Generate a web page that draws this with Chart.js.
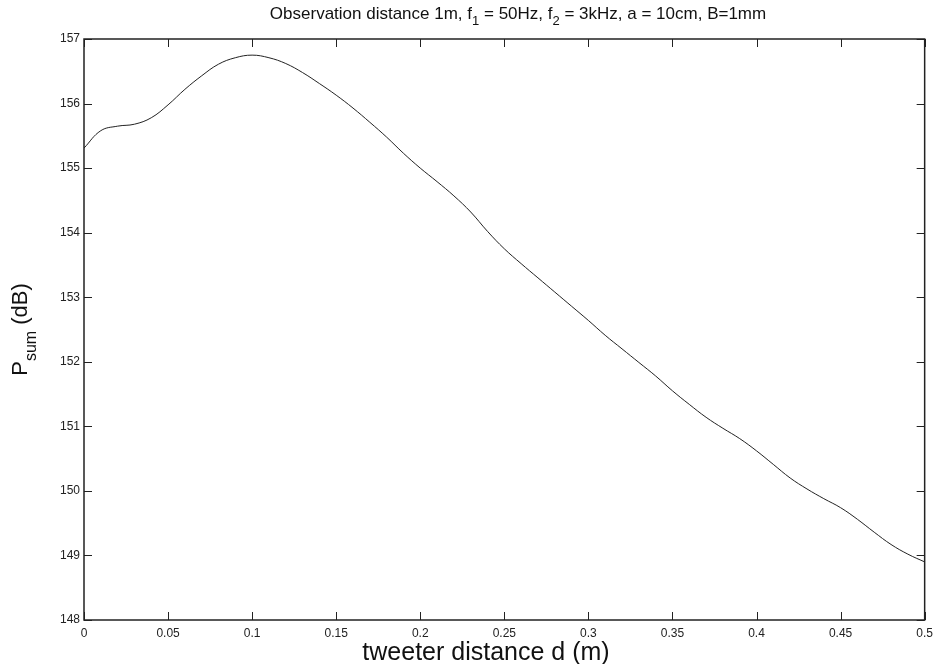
<!DOCTYPE html>
<html>
<head>
<meta charset="utf-8">
<script src="https://cdn.jsdelivr.net/npm/chart.js@4"></script>
<style>
  html, body { margin: 0; padding: 0; background: #fff; }
  canvas { display: block; }
</style>
</head>
<body>
<canvas id="chart" width="939" height="664"></canvas>
<script>
// tweeter distance d (m)
const distances = [
  0.00, 0.01, 0.02, 0.03, 0.04, 0.05, 0.06, 0.07, 0.08, 0.09,
  0.10, 0.11, 0.12, 0.13, 0.14, 0.15, 0.16, 0.17, 0.18, 0.19,
  0.20, 0.21, 0.22, 0.23, 0.24, 0.25, 0.26, 0.27, 0.28, 0.29,
  0.30, 0.31, 0.32, 0.33, 0.34, 0.35, 0.36, 0.37, 0.38, 0.39,
  0.40, 0.41, 0.42, 0.43, 0.44, 0.45, 0.46, 0.47, 0.48, 0.49, 0.50
];
// P_sum (dB)
const psum = [
  155.31, 155.58, 155.65, 155.68, 155.78, 155.98, 156.22, 156.43, 156.61, 156.71,
  156.75, 156.71, 156.62, 156.48, 156.31, 156.13, 155.93, 155.71, 155.48, 155.23,
  155.00, 154.79, 154.57, 154.32, 154.02, 153.75, 153.52, 153.30, 153.08, 152.86,
  152.64, 152.41, 152.20, 151.99, 151.78, 151.55, 151.34, 151.14, 150.97, 150.81,
  150.62, 150.41, 150.20, 150.03, 149.88, 149.74, 149.56, 149.36, 149.17, 149.02, 148.90
];
const xTicks = [0, 0.05, 0.1, 0.15, 0.2, 0.25, 0.3, 0.35, 0.4, 0.45, 0.5];
const yTicks = [148, 149, 150, 151, 152, 153, 154, 155, 156, 157];

const FONT = 'Liberation Sans, Arial, Helvetica, sans-serif';

// draws pieces of text with optional subscripts, starting at x
function drawRich(ctx, parts, x, y, size, subSize, subShift) {
  parts.forEach(p => {
    const s = p.sub ? subSize : size;
    ctx.font = s + 'px ' + FONT;
    ctx.fillText(p.text, x, p.sub ? y + subShift : y);
    x += ctx.measureText(p.text).width;
  });
}
function richWidth(ctx, parts, size, subSize) {
  let w = 0;
  parts.forEach(p => {
    ctx.font = (p.sub ? subSize : size) + 'px ' + FONT;
    w += ctx.measureText(p.text).width;
  });
  return w;
}

const matlabFrame = {
  id: 'matlabFrame',
  afterDraw(chart) {
    const { ctx, chartArea: a, scales } = chart;
    ctx.save();
    ctx.strokeStyle = '#222';
    ctx.lineWidth = 1;
    const tl = 8;
    ctx.beginPath();
    xTicks.forEach(v => {
      const px = Math.round(scales.x.getPixelForValue(v)) + 0.5;
      ctx.moveTo(px, a.bottom); ctx.lineTo(px, a.bottom - tl);
      ctx.moveTo(px, a.top); ctx.lineTo(px, a.top + tl);
    });
    yTicks.forEach(v => {
      const py = Math.round(scales.y.getPixelForValue(v)) + 0.5;
      ctx.moveTo(a.left, py); ctx.lineTo(a.left + tl, py);
      ctx.moveTo(a.right, py); ctx.lineTo(a.right - tl, py);
    });
    ctx.stroke();
    ctx.lineWidth = 1.5;
    ctx.strokeRect(a.left, a.top, a.right - a.left, a.bottom - a.top);

    ctx.fillStyle = '#111';
    ctx.textBaseline = 'alphabetic';
    // title
    const title = [
      { text: 'Observation distance 1m, f' }, { text: '1', sub: true },
      { text: ' = 50Hz, f' }, { text: '2', sub: true },
      { text: ' = 3kHz, a = 10cm, B=1mm' }
    ];
    const tw = richWidth(ctx, title, 17, 13);
    drawRich(ctx, title, 518 - tw / 2, 19, 17, 13, 6);

    // x label
    const xlab = [{ text: 'tweeter distance d (m)' }];
    const xw = richWidth(ctx, xlab, 25, 25);
    drawRich(ctx, xlab, 486 - xw / 2, 660, 25, 25, 0);

    // y label, rotated
    const ylab = [{ text: 'P' }, { text: 'sum', sub: true }, { text: ' (dB)' }];
    const yw = richWidth(ctx, ylab, 22, 16);
    ctx.translate(27, (a.top + a.bottom) / 2);
    ctx.rotate(-Math.PI / 2);
    drawRich(ctx, ylab, -yw / 2, 0, 22, 16, 9);
    ctx.restore();
  }
};

new Chart(document.getElementById('chart'), {
  type: 'line',
  data: {
    datasets: [{
      data: distances.map((d, i) => ({ x: d, y: psum[i] })),
      borderColor: '#222',
      borderWidth: 1,
      pointRadius: 0,
      fill: false,
      tension: 0.4
    }]
  },
  options: {
    responsive: false,
    animation: false,
    layout: { padding: { top: 39, right: 12, left: 0, bottom: 0 } },
    plugins: { legend: { display: false }, tooltip: { enabled: false }, title: { display: false } },
    scales: {
      x: {
        type: 'linear', min: 0, max: 0.5,
        afterBuildTicks: s => { s.ticks = xTicks.map(v => ({ value: v })); },
        afterFit: s => { s.height = 44; },
        grid: { display: false, drawTicks: false },
        border: { display: false },
        ticks: {
          padding: 6, color: '#222', maxRotation: 0, autoSkip: false,
          font: { family: FONT, size: 12 },
          callback: v => String(parseFloat(v.toFixed(2)))
        }
      },
      y: {
        type: 'linear', min: 148, max: 157,
        afterBuildTicks: s => { s.ticks = yTicks.map(v => ({ value: v })); },
        afterFit: s => { s.width = 84; },
        grid: { display: false, drawTicks: false },
        border: { display: false },
        ticks: { padding: 4, color: '#222', font: { family: FONT, size: 12 } }
      }
    }
  },
  plugins: [matlabFrame]
});
</script>
</body>
</html>
